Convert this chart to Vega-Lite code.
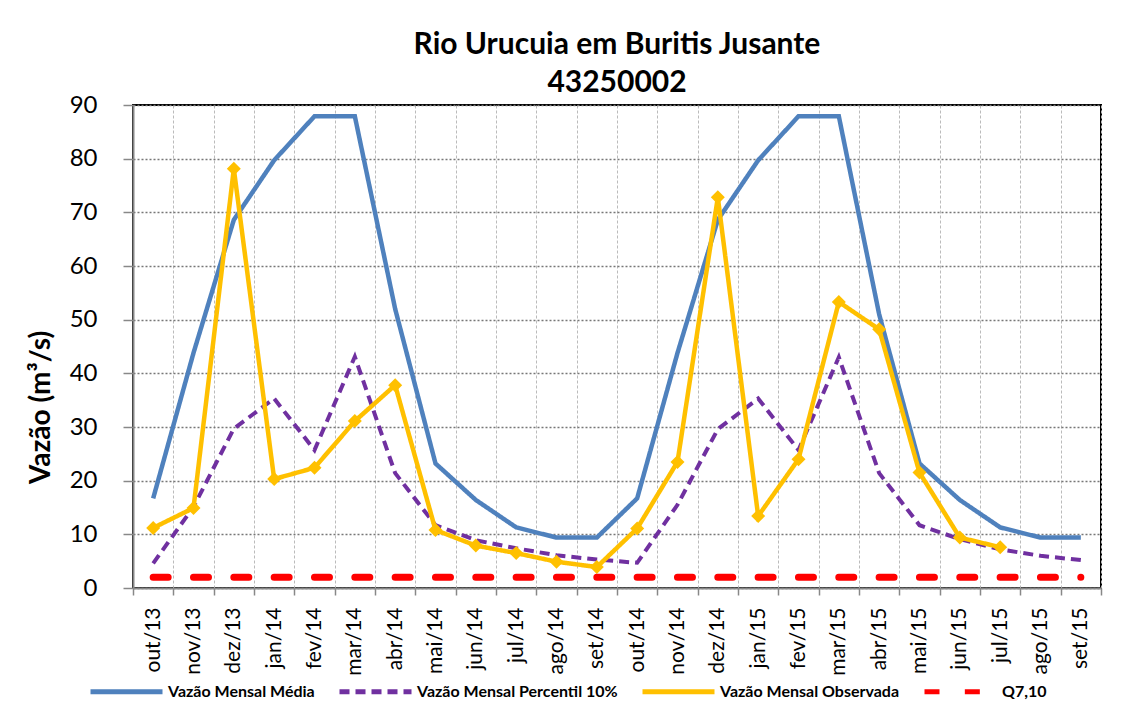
{
  "$schema": "https://vega.github.io/schema/vega-lite/v6.json",
  "width": 968,
  "height": 483,
  "autosize": {"type": "none"},
  "padding": {"left": 133, "top": 105, "right": 30, "bottom": 125},
  "background": "white",
  "title": {
    "text": ["Rio Urucuia em Buritis Jusante", "43250002"],
    "font": "Lato",
    "fontSize": 30,
    "fontWeight": "bold",
    "color": "black",
    "lineHeight": 38,
    "anchor": "middle",
    "offset": -5
  },
  "config": {
    "view": {"stroke": "black", "strokeWidth": 2}
  },
  "data": {
    "values": [
      {"mes": "out/13", "media": 16.7, "p10": 4.6, "obs": 11.2, "q710": 2.0},
      {"mes": "nov/13", "media": 43.8, "p10": 15.1, "obs": 14.9, "q710": 2.0},
      {"mes": "dez/13", "media": 68.6, "p10": 29.7, "obs": 78.1, "q710": 2.0},
      {"mes": "jan/14", "media": 79.7, "p10": 35.3, "obs": 20.3, "q710": 2.0},
      {"mes": "fev/14", "media": 87.9, "p10": 25.7, "obs": 22.4, "q710": 2.0},
      {"mes": "mar/14", "media": 87.9, "p10": 43.1, "obs": 31.1, "q710": 2.0},
      {"mes": "abr/14", "media": 52.0, "p10": 21.4, "obs": 37.8, "q710": 2.0},
      {"mes": "mai/14", "media": 23.2, "p10": 11.7, "obs": 10.8, "q710": 2.0},
      {"mes": "jun/14", "media": 16.4, "p10": 8.9, "obs": 7.9, "q710": 2.0},
      {"mes": "jul/14", "media": 11.3, "p10": 7.4, "obs": 6.5, "q710": 2.0},
      {"mes": "ago/14", "media": 9.4, "p10": 6.1, "obs": 4.9, "q710": 2.0},
      {"mes": "set/14", "media": 9.4, "p10": 5.3, "obs": 3.9, "q710": 2.0},
      {"mes": "out/14", "media": 16.7, "p10": 4.7, "obs": 11.1, "q710": 2.0},
      {"mes": "nov/14", "media": 43.8, "p10": 15.5, "obs": 23.5, "q710": 2.0},
      {"mes": "dez/14", "media": 68.6, "p10": 29.6, "obs": 72.8, "q710": 2.0},
      {"mes": "jan/15", "media": 79.7, "p10": 35.3, "obs": 13.4, "q710": 2.0},
      {"mes": "fev/15", "media": 87.9, "p10": 25.7, "obs": 24.0, "q710": 2.0},
      {"mes": "mar/15", "media": 87.9, "p10": 43.0, "obs": 53.3, "q710": 2.0},
      {"mes": "abr/15", "media": 51.0, "p10": 21.4, "obs": 48.2, "q710": 2.0},
      {"mes": "mai/15", "media": 23.2, "p10": 11.7, "obs": 21.5, "q710": 2.0},
      {"mes": "jun/15", "media": 16.4, "p10": 9.1, "obs": 9.4, "q710": 2.0},
      {"mes": "jul/15", "media": 11.3, "p10": 7.2, "obs": 7.6, "q710": 2.0},
      {"mes": "ago/15", "media": 9.4, "p10": 6.0, "obs": null, "q710": 2.0},
      {"mes": "set/15", "media": 9.4, "p10": 5.2, "obs": null, "q710": 2.0}
    ]
  },
  "encoding": {
    "x": {
      "field": "mes",
      "type": "ordinal",
      "scale": {
        "type": "band",
        "paddingInner": 0,
        "paddingOuter": 0,
        "domain": ["out/13", "nov/13", "dez/13", "jan/14", "fev/14", "mar/14", "abr/14", "mai/14", "jun/14", "jul/14", "ago/14", "set/14", "out/14", "nov/14", "dez/14", "jan/15", "fev/15", "mar/15", "abr/15", "mai/15", "jun/15", "jul/15", "ago/15", "set/15"]
      },
      "axis": {
        "title": null,
        "labelAngle": -90,
        "labelFont": "Lato",
        "labelFontSize": 21,
        "labelColor": "black",
        "labelPadding": 12,
        "tickBand": "extent",
        "tickSize": 7,
        "tickColor": "#888888",
        "tickWidth": 1.5,
        "domainColor": "#888888",
        "domainWidth": 2,
        "grid": true,
        "gridColor": "#bbbbbb",
        "gridDash": [3, 2],
        "gridWidth": 1
      }
    }
  },
  "layer": [
    {
      "mark": {"type": "line", "strokeWidth": 4.5},
      "encoding": {
        "y": {
          "field": "media",
          "type": "quantitative",
          "title": "Vazão (m³/s)",
          "scale": {"domain": [0, 90], "nice": false},
          "axis": {
            "values": [0, 10, 20, 30, 40, 50, 60, 70, 80, 90],
            "titleFont": "Lato",
            "titleFontSize": 28,
            "titleFontWeight": "bold",
            "titleColor": "black",
            "titleX": -78,
            "titleY": 302,
            "labelFont": "Lato",
            "labelFontSize": 24,
            "labelColor": "black",
            "labelPadding": 26,
            "tickSize": 10,
            "tickColor": "#888888",
            "tickWidth": 1.5,
            "domainColor": "#888888",
            "domainWidth": 2,
            "grid": true,
            "gridColor": "#777777",
            "gridDash": [2, 2],
            "gridWidth": 1.5
          }
        },
        "color": {
          "datum": "Vazão Mensal Média",
          "type": "nominal",
          "scale": {
            "domain": ["Vazão Mensal Média", "Vazão Mensal Percentil 10%", "Vazão Mensal Observada", "Q7,10"],
            "range": ["#4F81BD", "#7030A0", "#FFC000", "#FF0000"]
          },
          "legend": {
            "title": null,
            "orient": "none",
            "legendX": -45,
            "legendY": 548,
            "direction": "horizontal",
            "columns": 4,
            "padding": 0,
            "columnPadding": 14,
            "symbolType": "stroke",
            "symbolSize": 5184,
            "symbolStrokeWidth": 5,
            "labelFont": "Lato",
            "labelFontSize": 16,
            "labelFontWeight": "bold",
            "labelColor": "black",
            "labelOffset": 3,
            "labelLimit": 400
          }
        },
        "strokeDash": {
          "datum": "Vazão Mensal Média",
          "type": "nominal",
          "scale": {
            "domain": ["Vazão Mensal Média", "Vazão Mensal Percentil 10%", "Vazão Mensal Observada", "Q7,10"],
            "range": [[1, 0], [10, 6], [1, 0], [15, 25.33]]
          },
          "legend": {
            "title": null,
            "orient": "none",
            "legendX": -45,
            "legendY": 548,
            "direction": "horizontal",
            "columns": 4,
            "padding": 0,
            "columnPadding": 14,
            "symbolType": "stroke",
            "symbolSize": 5184,
            "symbolStrokeWidth": 5,
            "labelFont": "Lato",
            "labelFontSize": 16,
            "labelFontWeight": "bold",
            "labelColor": "black",
            "labelOffset": 3,
            "labelLimit": 400
          }
        }
      }
    },
    {
      "mark": {"type": "line", "strokeWidth": 4},
      "encoding": {
        "y": {"field": "p10", "type": "quantitative", "title": "Vazão (m³/s)"},
        "color": {"datum": "Vazão Mensal Percentil 10%", "type": "nominal"},
        "strokeDash": {"datum": "Vazão Mensal Percentil 10%", "type": "nominal"}
      }
    },
    {
      "mark": {"type": "line", "strokeWidth": 4.5},
      "encoding": {
        "y": {"field": "obs", "type": "quantitative", "title": "Vazão (m³/s)"},
        "color": {"datum": "Vazão Mensal Observada", "type": "nominal"},
        "strokeDash": {"datum": "Vazão Mensal Observada", "type": "nominal"}
      }
    },
    {
      "mark": {"type": "point", "shape": "diamond", "filled": true, "size": 196, "color": "#FFC000", "opacity": 1},
      "encoding": {
        "y": {"field": "obs", "type": "quantitative", "title": "Vazão (m³/s)"}
      }
    },
    {
      "mark": {"type": "line", "strokeWidth": 7, "strokeCap": "round"},
      "encoding": {
        "y": {"field": "q710", "type": "quantitative", "title": "Vazão (m³/s)"},
        "color": {"datum": "Q7,10", "type": "nominal"},
        "strokeDash": {"datum": "Q7,10", "type": "nominal"}
      }
    }
  ]
}
